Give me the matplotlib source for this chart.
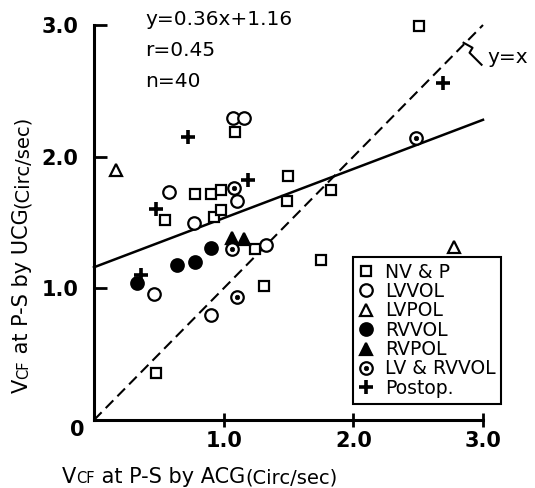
import matplotlib
matplotlib.use("Agg")
import matplotlib.pyplot as plt
from matplotlib.lines import Line2D

# ---------------- data ----------------
nvp_x = [1.085, 0.776, 0.90, 0.98, 1.50, 1.488, 0.545, 0.925, 0.98, 1.239, 1.308, 0.476, 1.748, 2.51, 1.83]
nvp_y = [2.19, 1.714, 1.72, 1.75, 1.853, 1.663, 1.52, 1.54, 1.595, 1.296, 1.02, 0.355, 1.215, 2.99, 1.746]

lvvol_x = [1.07, 1.16, 0.576, 1.10, 0.771, 0.46, 1.328, 0.904]
lvvol_y = [2.29, 2.29, 1.733, 1.665, 1.50, 0.954, 1.329, 0.80]

lvpol_x = [0.17, 2.78]
lvpol_y = [1.90, 1.316]

rvvol_x = [0.90, 0.642, 0.776, 0.334]
rvvol_y = [1.304, 1.177, 1.202, 1.038]

rvpol_x = [1.064, 1.16]
rvpol_y = [1.38, 1.374]

lvrv_x = [1.077, 1.064, 1.10, 2.485]
lvrv_y = [1.76, 1.296, 0.936, 2.14]

postop_x = [0.725, 1.187, 0.48, 0.365, 2.69]
postop_y = [2.15, 1.82, 1.60, 1.10, 2.556]

fit_x = [0.0, 3.0]
fit_y = [1.16, 2.28]
ident_x = [0.0, 3.0]
ident_y = [0.0, 3.0]

ticks = [1.0, 2.0, 3.0]
tick_labels = ["1.0", "2.0", "3.0"]
legend_labels = ["NV & P", "LVVOL", "LVPOL", "RVVOL", "RVPOL", "LV & RVVOL", "Postop."]
stats_lines = ["y=0.36x+1.16", "r=0.45", "n=40"]

# ---------------- figure ----------------
W, H = 535, 488
plt.rcParams['font.family'] = ['DejaVu Sans']
fig = plt.figure(figsize=(W / 100, H / 100), dpi=100)
ax = fig.add_axes([94 / W, 68 / H, 389 / W, 395 / H])
ax.set_xlim(0, 3)
ax.set_ylim(0, 3)

for s in ['top', 'right']:
    ax.spines[s].set_visible(False)
for s in ['left', 'bottom']:
    ax.spines[s].set_linewidth(2.2)

ax.set_xticks(ticks)
ax.set_xticklabels(tick_labels)
ax.set_yticks(ticks)
ax.set_yticklabels(tick_labels)
ax.tick_params(axis='x', direction='inout', length=10, width=2, pad=3,
               labelsize=15)
ax.tick_params(axis='y', direction='in', length=9, width=2, pad=11,
               labelsize=15)
for lab in ax.get_xticklabels() + ax.get_yticklabels():
    lab.set_fontweight('bold')
fig.text(77 / W, (H - 430) / H, "0", fontsize=15, fontweight='bold',
         ha='center', va='center')

# lines
ax.plot(ident_x, ident_y, color='black', lw=1.5, ls=(0, (5.2, 2.8)),
        zorder=2, clip_on=False)
ax.plot(fit_x, fit_y, color='black', lw=1.8, zorder=2, clip_on=False)

mew = 1.6
common = dict(ls='none', clip_on=False, zorder=4, color='black')
ax.plot(nvp_x, nvp_y, marker='s', ms=7.5, mfc='white', mec='black', mew=mew, **common)
ax.plot(lvvol_x, lvvol_y, marker='o', ms=9, mfc='white', mec='black', mew=mew, **common)
ax.plot(lvpol_x, lvpol_y, marker='^', ms=8.5, mfc='white', mec='black', mew=mew, **common)
ax.plot(rvvol_x, rvvol_y, marker='o', ms=9, mfc='black', mec='black', mew=mew, **common)
ax.plot(rvpol_x, rvpol_y, marker='^', ms=9, mfc='black', mec='black', mew=mew, **common)
ax.plot(lvrv_x, lvrv_y, marker='o', ms=9, mfc='white', mec='black', mew=mew, **common)
ax.plot(lvrv_x, lvrv_y, marker='o', ms=3.2, mfc='black', mec='black', mew=0.5,
        ls='none', clip_on=False, zorder=5)
ax.plot(postop_x, postop_y, marker='+', ms=10, mew=2.6, **common)

# stats text
for i, s in enumerate(stats_lines):
    fig.text(145 / W, (H - (25 + 31 * i)) / H, s, fontsize=14.5,
             ha='left', va='baseline')

# y = x bracket and label
anchor = (2.85, 2.85)
zig_px_x = [0, 9, 6, 18]
zig_px_y = [2, -3, -8, -20]
base = ax.transData.transform(anchor)
zx = [(base[0] + dx) for dx in zig_px_x]
zy = [(base[1] + dy) for dy in zig_px_y]
fig.add_artist(Line2D(zx, zy, transform=None, color='black', lw=1.5))
fig.text(487 / W, (H - 63) / H, "y=x", fontsize=14.5, ha='left', va='baseline')

# legend
wh = dict(ls='none', color='black', mew=mew)
handles = [
    Line2D([], [], marker='s', ms=7.5, mfc='white', mec='black', **wh),
    Line2D([], [], marker='o', ms=9, mfc='white', mec='black', **wh),
    Line2D([], [], marker='^', ms=8.5, mfc='white', mec='black', **wh),
    Line2D([], [], marker='o', ms=9, mfc='black', mec='black', **wh),
    Line2D([], [], marker='^', ms=9, mfc='black', mec='black', **wh),
    (Line2D([], [], marker='o', ms=9, mfc='white', mec='black', **wh),
     Line2D([], [], marker='o', ms=3.2, mfc='black', mec='black', ls='none', mew=0.5)),
    Line2D([], [], marker='+', ms=10, mec='black', ls='none', mew=2.6),
]
leg = ax.legend(handles, legend_labels, loc='upper left',
                bbox_to_anchor=(353 / W, (H - 257) / H),
                bbox_transform=fig.transFigure, frameon=True, fancybox=False,
                edgecolor='black', framealpha=1, fontsize=13.5,
                handlelength=0.8, handletextpad=0.6, labelspacing=0.02,
                borderpad=0.3, borderaxespad=0)
leg.get_frame().set_linewidth(1.5)
leg.set_zorder(6)

# axis labels with small-caps "CF" and smaller "(Circ/sec)"
fig.canvas.draw()
renderer = fig.canvas.get_renderer()


def seq_text(x_px, y_px, segs, rotation=0):
    pos = 0.0
    for s, size in segs:
        if rotation == 0:
            xx, yy = x_px + pos, y_px
        else:
            xx, yy = x_px, y_px + pos
        t = fig.text(xx / W, yy / H, s, fontsize=size, rotation=rotation,
                     rotation_mode='anchor', ha='left', va='baseline')
        bb = t.get_window_extent(renderer)
        pos += bb.width if rotation == 0 else bb.height


seq_text(62, H - 483, [("V", 15), ("CF", 10.5), (" at P-S by ACG", 15), ("(Circ/sec)", 14)])
seq_text(28, H - 393, [("V", 15), ("CF", 10.5), (" at P-S by UCG", 15), ("(Circ/sec)", 14)],
         rotation=90)

fig.savefig("out.png", dpi=100)
